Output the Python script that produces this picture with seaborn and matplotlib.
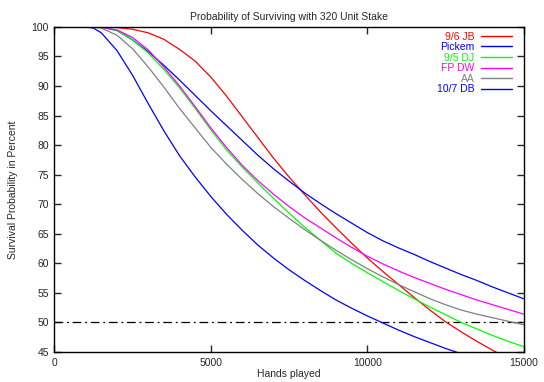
import matplotlib
matplotlib.use("Agg")
import matplotlib.pyplot as plt
import seaborn as sns
import pandas as pd

# ---- data ----
series_names = ["9/6 JB", "Pickem", "9/5 DJ", "FP DW", "AA", "10/7 DB"]
series_colors = ["#ff0000", "#0000ff", "#00ff00", "#ff00ff", "#808080", "#0000ff"]

jb_x = [0, 1500, 2000, 2500, 3000, 3500, 4000, 4500, 5000, 5500, 6000, 6500, 7000, 7500,
        8000, 8500, 9000, 9500, 10000, 10500, 11000, 11500, 12000, 12500, 13000, 13500, 14000, 14500]
jb_y = [100, 100, 99.9, 99.6, 99.0, 97.9, 96.2, 94.2, 91.5, 88.3, 84.8, 81.3, 77.8, 74.6,
        71.6, 68.7, 66.0, 63.4, 60.9, 58.6, 56.4, 54.2, 52.1, 50.1, 48.4, 46.8, 45.3, 43.9]

pickem_x = [0, 1500, 2000, 2500, 3000, 3500, 4000, 4500, 5000, 5500, 6000, 6500, 7000, 7500,
            8000, 8500, 9000, 9500, 10000, 10500, 11000, 11500, 12000, 12500, 13000, 13500, 14000, 14500, 15000]
pickem_y = [100, 100, 99.4, 97.8, 95.8, 93.5, 91.0, 88.4, 85.8, 83.3, 80.8, 78.3, 76.0, 73.9,
            71.9, 70.1, 68.4, 66.8, 65.2, 63.8, 62.6, 61.5, 60.3, 59.2, 58.1, 57.1, 56.0, 55.0, 54.0]

dj_x = [0, 1400, 2000, 2500, 3000, 3500, 4000, 4500, 5000, 5500, 6000, 6500, 7000, 7500,
        8000, 8500, 9000, 9500, 10000, 10500, 11000, 11500, 12000, 12500, 13000, 13500, 14000, 14500, 15000]
dj_y = [100, 100, 99.4, 97.8, 95.6, 92.8, 89.7, 86.2, 82.6, 79.2, 76.3, 73.6, 71.0, 68.5,
        66.1, 63.9, 61.7, 60.0, 58.4, 56.9, 55.4, 54.0, 52.6, 51.3, 50.0, 48.9, 47.8, 46.8, 45.9]

fpdw_x = [0, 1400, 2000, 2500, 3000, 3500, 4000, 4500, 5000, 5500, 6000, 6500, 7000, 7500,
          8000, 8500, 9000, 9500, 10000, 10500, 11000, 11500, 12000, 12500, 13000, 13500, 14000, 14500, 15000]
fpdw_y = [100, 100, 99.5, 98.2, 96.1, 93.2, 90.0, 86.5, 82.9, 79.6, 76.6, 74.0, 71.7, 69.6,
          67.7, 66.0, 64.3, 62.7, 61.2, 59.9, 58.7, 57.6, 56.6, 55.6, 54.7, 53.8, 53.0, 52.2, 51.4]

aa_x = [0, 1200, 1500, 2000, 2500, 3000, 3500, 4000, 4500, 5000, 5500, 6000, 6500, 7000, 7500,
        8000, 8500, 9000, 9500, 10000, 10500, 11000, 11500, 12000, 12500, 13000, 13500, 14000, 14500, 15000]
aa_y = [100, 100, 99.8, 98.6, 96.3, 93.2, 89.8, 86.2, 82.9, 79.6, 76.8, 74.2, 71.8, 69.6, 67.6,
        65.7, 63.9, 62.2, 60.6, 59.1, 57.7, 56.4, 55.2, 54.0, 53.0, 52.1, 51.4, 50.8, 50.2, 49.6]

db_x = [0, 1000, 1250, 1500, 2000, 2500, 3000, 3500, 4000, 4500, 5000, 5500, 6000, 6500, 7000,
        7500, 8000, 8500, 9000, 9500, 10000, 10500, 11000, 11500, 12000, 12500, 13000]
db_y = [100, 100, 99.8, 99.0, 96.0, 91.8, 87.0, 82.4, 78.2, 74.6, 71.3, 68.3, 65.6, 63.1, 60.9,
        58.9, 57.1, 55.4, 53.8, 52.4, 51.1, 49.9, 48.7, 47.6, 46.6, 45.6, 44.7]

xs = [jb_x, pickem_x, dj_x, fpdw_x, aa_x, db_x]
ys = [jb_y, pickem_y, dj_y, fpdw_y, aa_y, db_y]

x_ticks = [0, 5000, 10000, 15000]
y_ticks = [45, 50, 55, 60, 65, 70, 75, 80, 85, 90, 95, 100]
ref_level = 50

frames = []
for name, x, y in zip(series_names, xs, ys):
    frames.append(pd.DataFrame({"hands": x, "survival": y, "game": name}))
df = pd.concat(frames, ignore_index=True)

sns.set_style("ticks")
plt.rcParams["font.family"] = ["Liberation Sans", "DejaVu Sans"]

fig = plt.figure(figsize=(5.44, 3.82), dpi=100)
ax = fig.add_axes([0.100, 0.0785, 0.863, 0.851])

ax.axhline(ref_level, color="black", lw=0.9, ls=(0, (7, 3, 1.5, 3)), zorder=1)

sns.lineplot(data=df, x="hands", y="survival", hue="game", hue_order=series_names,
             palette=series_colors, linewidth=0.9, ax=ax, estimator=None,
             sort=False, legend=True, zorder=2)

ax.set_xlim(0, 15000)
ax.set_ylim(45, 100)
ax.set_xticks(x_ticks)
ax.set_yticks(y_ticks)
ax.tick_params(direction="in", length=5, width=1, top=True, right=True,
               labelsize=7.5, pad=4)
for s in ax.spines.values():
    s.set_linewidth(1.0)
    s.set_color("black")

ax.set_title("Probability of Surviving with 320 Unit Stake", fontsize=7.5, pad=5)
ax.set_xlabel("Hands played", fontsize=7.5, labelpad=1)
ax.set_ylabel("Survival Probability in Percent", fontsize=7.5, labelpad=10)

handles, labels = ax.get_legend_handles_labels()
leg = ax.legend(handles, labels, loc="upper right", frameon=False,
                markerfirst=False, fontsize=7.5, handlelength=3.0,
                handletextpad=0.6, labelspacing=0.05,
                borderaxespad=0.3, bbox_to_anchor=(0.99, 1.008))
for txt, c in zip(leg.get_texts(), series_colors):
    txt.set_color(c)
    txt.set_ha("right")
for lh in leg.get_lines():
    lh.set_linewidth(1.0)

fig.savefig("out.png", dpi=100)
